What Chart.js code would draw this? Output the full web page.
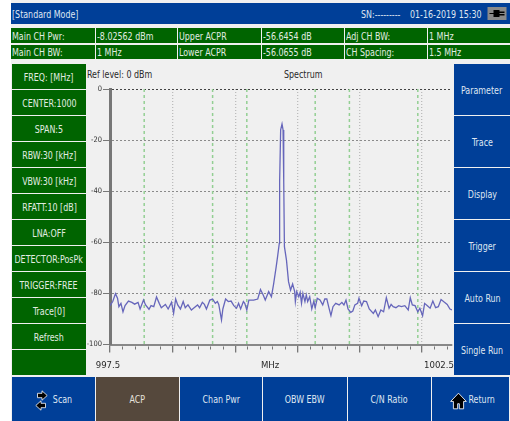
<!DOCTYPE html>
<html>
<head>
<meta charset="utf-8">
<script src="https://cdn.jsdelivr.net/npm/chart.js@4"></script>
<style>
html,body{margin:0;padding:0;background:#fff;}
#page{position:relative;width:510px;height:421px;overflow:hidden;filter:blur(0.4px);
 font-family:"DejaVu Sans Condensed","DejaVu Sans",sans-serif;font-stretch:condensed;font-size:10.5px;}
#bg{position:absolute;left:11px;top:0;width:499px;height:421px;background:#f0f0f0;}
.b{position:absolute;box-sizing:border-box;display:flex;align-items:center;justify-content:center;white-space:nowrap;color:#e6ebf2;}
.b span,.t span{display:inline-block;transform:scaleX(.84);transform-origin:center;flex:none;}
.g{background:#006400;color:#e2ece2;}
.u{background:#003f98;color:#dfe6f2;}
.l{justify-content:flex-start;padding-left:1px;}
.l span,.t span{transform-origin:left center;}
.t{position:absolute;white-space:nowrap;color:#2a2a2a;}
canvas{position:absolute;left:0;top:0;}
svg{position:absolute;}
</style>
</head>
<body>
<div id="page">
<div id="bg"></div>
<div id="ui"></div>
<div class="t" style="left:87px;top:68px;"><span>Ref level: 0 dBm</span></div>
<div class="t" style="left:284px;top:68px;"><span>Spectrum</span></div>
<canvas id="c" width="510" height="421"></canvas>
<svg style="left:487px;top:7px" width="20" height="13" viewBox="0 0 19 13"><rect width="19" height="13" fill="#8a8a8a"/><path d="M2 6h4v-3h6v1.500h5v1.500h-5v1h5v1.500h-5v1.500h-6v-3h-4z" fill="#000"/></svg>
<svg style="left:35px;top:390px" width="13" height="21" viewBox="0 0 13 21"><path d="M7 .8l5.200 4.700L7 10.200V7.700H2.500V3.300H7zM6 10.800v2.500h4.500v4.400H6v2.500L.8 15.500z" fill="#000" stroke="#fff" stroke-width=".8"/></svg>
<svg style="left:450px;top:391px" width="17" height="20" viewBox="0 0 20 20"><path d="M10 .8L.8 10.500h3.200v8.700h5v-6h2v6h5v-8.700h3.200z" fill="#000" stroke="#fff" stroke-width="1"/></svg>
</div>
<script>
// ---- chart values ----
const traceFreq = [
997.5,997.54,997.58,997.61,997.63,997.66,997.69,997.72,997.77,997.82,997.86,997.91,997.94,997.99,998.02,998.07,998.10,998.14,998.18,998.22,998.25,998.31,998.35,998.40,998.43,998.46,998.49,998.53,998.57,998.60,998.64,998.69,998.73,998.78,
998.81,998.85,998.88,998.91,998.96,999.0,999.04,999.07,999.09,999.13,999.15,999.19,999.23,999.27,999.31,999.35,999.38,999.41,999.45,999.47,999.50,999.53,999.60,999.66,999.70,999.74,999.77,999.82,999.86,999.89,
999.93,999.95,999.975,999.98,999.995,1000.015,1000.03,1000.04,1000.05,1000.08,1000.11,1000.14,1000.17,1000.20,
1000.21,1000.23,1000.26,1000.28,1000.30,1000.32,1000.35,1000.37,1000.39,1000.42,1000.45,1000.48,1000.50,1000.53,1000.57,1000.61,1000.64,1000.67,1000.70,1000.73,1000.76,1000.80,1000.85,1000.89,1000.92,1000.95,1000.98,1001.02,1001.05,1001.08,1001.12,1001.14,1001.18,1001.21,1001.25,1001.29,
1001.35,1001.38,1001.42,1001.46,1001.50,1001.54,1001.58,1001.61,1001.64,1001.68,1001.72,1001.76,1001.81,1001.86,1001.89,1001.92,1001.96,1002.0,1002.03,1002.07,1002.10,1002.14,1002.18,1002.22,1002.26,1002.30,1002.34,1002.39,1002.43,1002.47,1002.5];
const traceLevel = [
-84.8,-83.2,-80.1,-81.9,-85.2,-83.9,-87.2,-84.8,-83.0,-83.5,-84.2,-83.5,-86.1,-82.6,-84.5,-86.2,-84.8,-85.2,-81.4,-83.9,-85.6,-84.3,-86.1,-83.5,-87.8,-82.2,-84.5,-86.1,-83.2,-85.6,-84.5,-86.5,-85.6,-84.5,
-85.6,-83.5,-84.3,-86.1,-82.6,-82.2,-83.9,-83.2,-84.3,-90.4,-86.1,-82.2,-83.2,-83.0,-84.8,-85.8,-83.9,-86.1,-83.2,-83.9,-86.5,-82.6,-82.6,-82.2,-78.5,-80.6,-82.6,-79.3,-81.3,-76.7,
-69.5,-65.6,-60.4,-36.3,-16,-13.7,-16,-36.3,-61.7,-67,-75.4,-78.7,-76.3,-79.3,
-83.2,-79.3,-81.3,-79.6,-83.9,-80,-83.2,-80.6,-83.2,-81.3,-86.1,-83,-85.6,-81.9,-82.6,-84.5,-82.2,-82.2,-85.6,-88.7,-85.2,-83.9,-84.5,-83.5,-84.5,-82.6,-86.1,-87.4,-86.9,-84.5,-83.9,-81.9,-84.8,-83,-83.2,-86.1,
-87.8,-86.5,-89.1,-86.5,-87.2,-81.7,-85.8,-84.3,-85.2,-85.6,-84.8,-85.2,-84.8,-86.5,-81.7,-84.5,-84.8,-87.2,-85.8,-88.7,-83.9,-84.8,-85.8,-83,-85.6,-85.2,-82.4,-83.5,-84.3,-86.1,-86.5];
const channelEdges = [998,999,999.5,1000.5,1001,1002];
const yTickValues = [0,-20,-40,-60,-80,-100];
const xMajorTicks = [997.5,998.42,999.33,1000.24,1001.15,1002.06];
const xMinorTicks = [997.68,997.86,998.05,998.23,998.6,998.78,998.96,999.15,999.51,999.69,999.87,1000.06,1000.42,1000.6,1000.79,1000.97,1001.33,1001.51,1001.69,1001.88,1002.24,1002.42];
const xTickLabels = [["997.5",997.47],["MHz",999.84],["1002.5",1002.31]];
const chartTraceName = "Trace[0]";

// ---- instrument panel text ----
const rowOne = ["Main CH Pwr:","-8.02562 dBm","Upper ACPR","-56.6454 dB","Adj CH BW:","1 MHz"];
const rowTwo = ["Main CH BW:","1 MHz","Lower ACPR","-56.0655 dB","CH Spacing:","1.5 MHz"];
const leftKeys = ["FREQ: [MHz]","CENTER:1000","SPAN:5","RBW:30 [kHz]","VBW:30 [kHz]","RFATT:10 [dB]","LNA:OFF","DETECTOR:PosPk","TRIGGER:FREE","Trace[0]","Refresh",""];
const rightKeys = ["Parameter","Trace","Display","Trigger","Auto Run","Single Run"];
const bottomKeys = ["Scan","ACP","Chan Pwr","OBW EBW","C/N Ratio","Return"];

const ui = document.getElementById("ui");
function box(cls,x,y,w,h,text,extra){
  const d=document.createElement("div");d.className="b "+cls;
  d.style.cssText=`left:${x}px;top:${y}px;width:${w}px;height:${h}px;`+(extra||"");
  const s=document.createElement("span");s.textContent=text;d.appendChild(s);
  ui.appendChild(d);return d;
}
box("u l",11,3,499,21,"[Standard Mode]");
box("l",361,3,50,21,"SN:---------","color:#dfe6f2;padding-left:0");
box("l",410,3,75,21,"01-16-2019 15:30","color:#dfe6f2;padding-left:0");
const cellX=[11,96,178,262,345,428,510];
[[rowOne,28,15],[rowTwo,45,14]].forEach(([row,y,h])=>row.forEach((t,i)=>box("g l",cellX[i],y,cellX[i+1]-cellX[i]-(i<5?1:0),h,t)));
leftKeys.forEach((t,i)=>box("g",12,64+i*26,74,25,t));
rightKeys.forEach((t,i)=>box("u",454,64+i*52,56,51,t));
const botX=[12,96,180,263,348,432,510];
bottomKeys.forEach((t,i)=>{
  const d=box(i==1?"":"u",botX[i],377,botX[i+1]-botX[i]-1,44,t,i==1?"background:#55483c;color:#e6e2dc;":"");
  if(i==0)d.style.paddingLeft="17px";
  if(i==5)d.style.paddingLeft="23px";
});

const bandSets = channelEdges.map(f=>({
  label:"Channel edge "+f,
  data:[{x:f,y:0},{x:f,y:-100}],
  borderColor:"#93cf93",borderWidth:1.5,borderDash:[3,3],pointRadius:0,order:2
}));
const axisMarks = {
  id:"axisMarks",
  afterDraw(chart){
    const c=chart.ctx,sx=chart.scales.x,b=chart.chartArea.bottom;
    c.save();
    c.strokeStyle="#777";c.lineWidth=1;
    xMinorTicks.forEach(f=>{const p=Math.round(sx.getPixelForValue(f))+.5;c.beginPath();c.moveTo(p,b+2);c.lineTo(p,b+5);c.stroke();});
    c.fillStyle="#2a2a2a";c.font='9.500px "DejaVu Sans Condensed","DejaVu Sans"';c.textBaseline="middle";c.textAlign="center";
    xTickLabels.forEach(([t,f])=>c.fillText(t,sx.getPixelForValue(f),366));
    c.restore();
  }
};
new Chart(document.getElementById("c"),{
  type:"line",
  data:{datasets:[
    {label:chartTraceName,data:traceFreq.map((f,i)=>({x:f,y:traceLevel[i]})),borderColor:"#6666bb",borderWidth:1.300,pointRadius:0,tension:0,order:1},
    ...bandSets
  ]},
  plugins:[axisMarks],
  options:{
    responsive:false,animation:false,
    layout:{padding:{left:80,right:58,top:89,bottom:52}},
    plugins:{legend:{display:false},tooltip:{enabled:false},title:{display:false}},
    scales:{
      x:{type:"linear",min:997.5,max:1002.5,
        afterBuildTicks(s){s.ticks=xMajorTicks.map(v=>({value:v}));},
        afterFit(s){s.height=24.5;},
        ticks:{display:false},
        border:{color:"#888",width:2,dash:[1,2]},
        grid:{color:"#bcbcbc",lineWidth:1.300,tickColor:"#777",tickLength:8,tickBorderDash:[]}
      },
      y:{min:-100,max:0,
        afterBuildTicks(s){s.ticks=yTickValues.map(v=>({value:v}));},
        afterFit(s){s.width=30;},
        ticks:{color:"#333",font:{family:'"DejaVu Sans Condensed","DejaVu Sans"',size:7.500},padding:1},
        border:{color:"#777",width:3,dash:[2,2]},
        grid:{color(ctx){const v=ctx.tick&&ctx.tick.value;return (v===0||v===-100)?"#444":"#8a8a8a";},tickColor:"#777",tickLength:7,tickBorderDash:[]}
      }
    }
  }
});
</script>
</body>
</html>
